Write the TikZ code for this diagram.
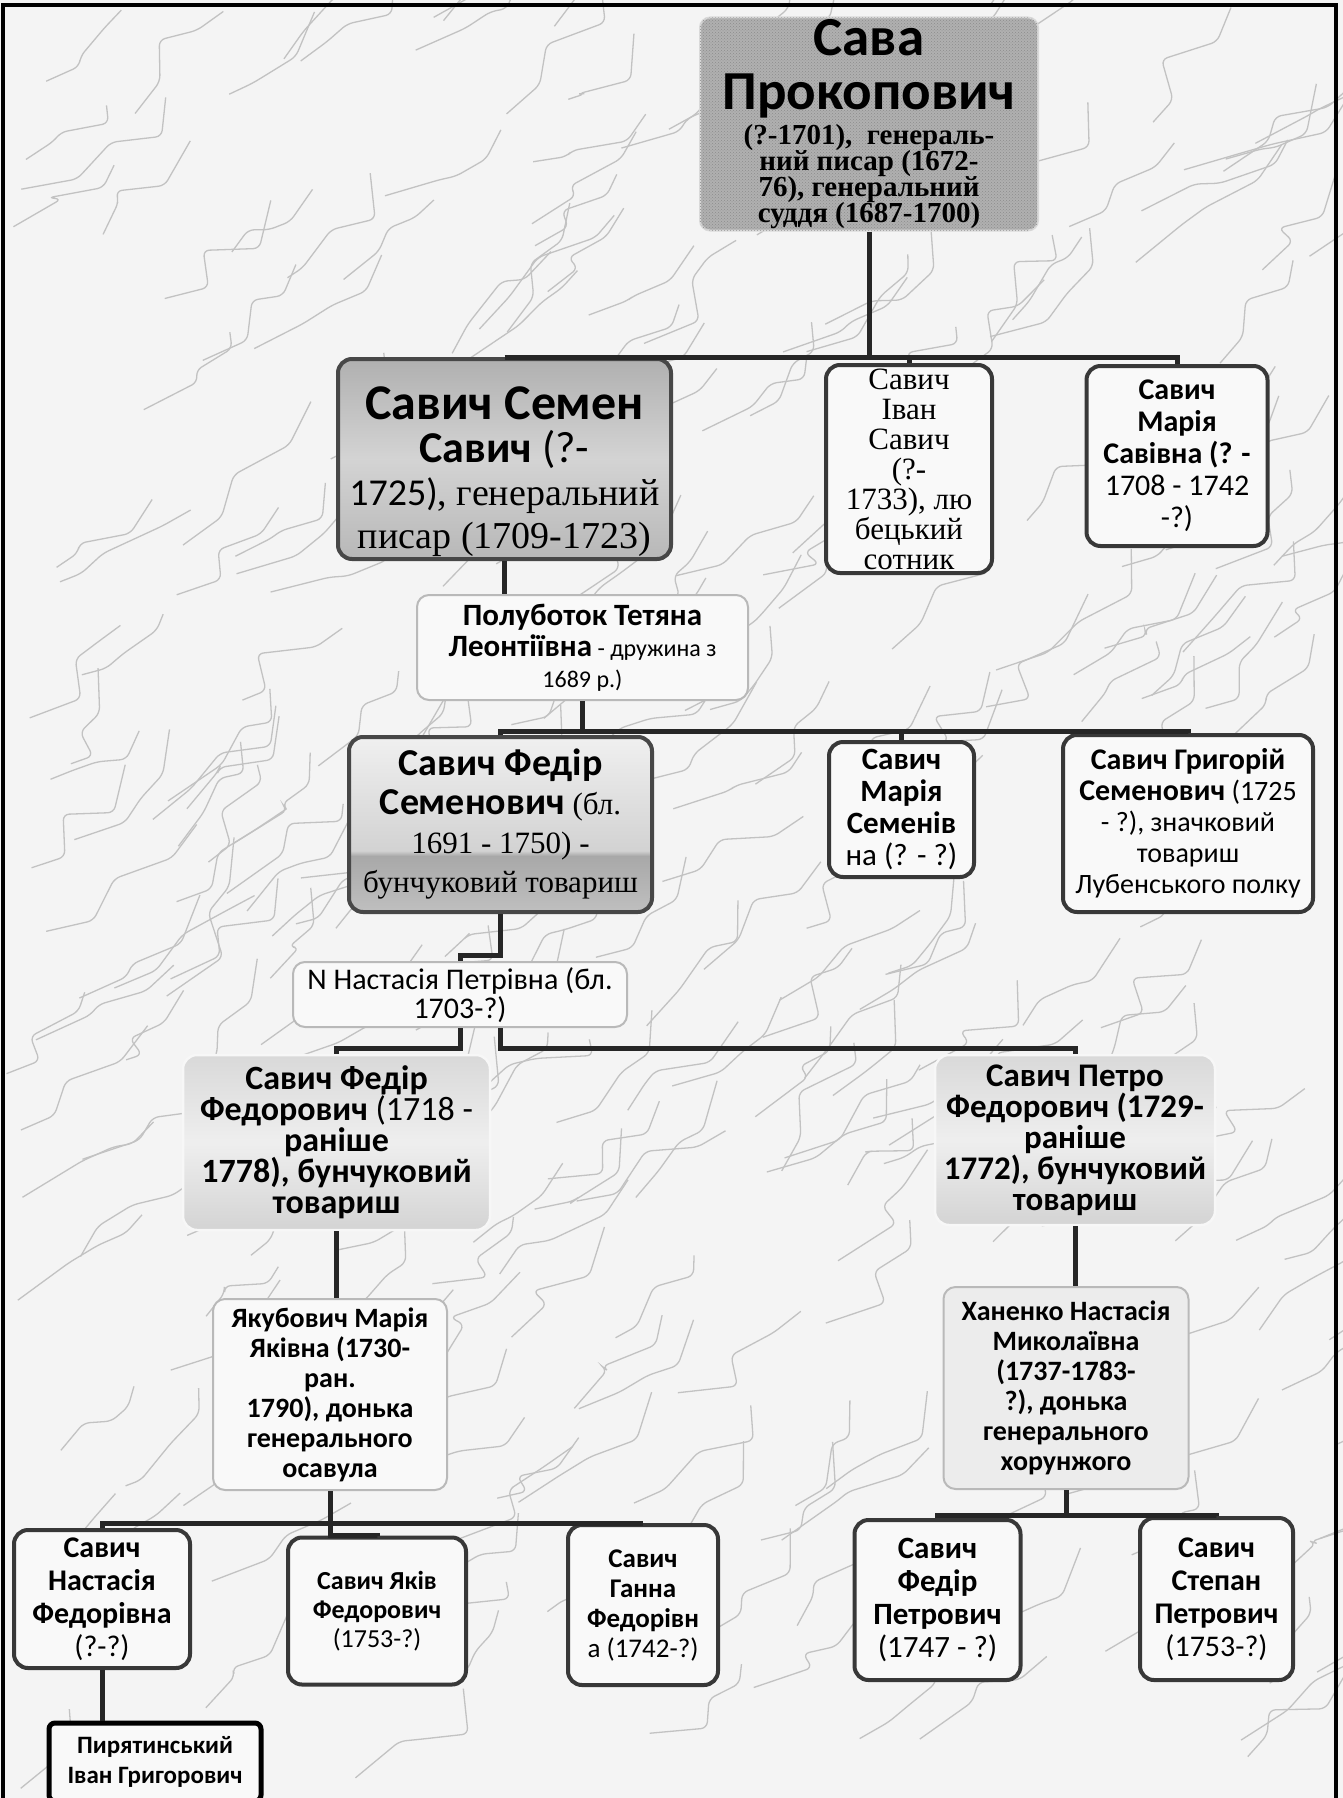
\documentclass[tikz,border=0pt]{standalone}
\usepackage{fontspec}
\setmainfont{Carlito}
\newfontfamily\serfont{Liberation Serif}
\usetikzlibrary{calc,patterns}
\lineskiplimit=-1000pt
\newcommand\fsz[2]{\fontsize{#1}{#2}\selectfont}
% shadings of the coloured boxes
\pgfdeclareverticalshading{semenshade}{100bp}{color(0bp)=(gray!56); color(25bp)=(gray!56); color(50bp)=(gray!34); color(75bp)=(gray!62); color(100bp)=(gray!62)}
\pgfdeclareverticalshading{fedirshade}{100bp}{color(0bp)=(gray!50); color(25bp)=(gray!50); color(41bp)=(gray!68); color(42.5bp)=(gray!35); color(75bp)=(gray!12); color(100bp)=(gray!12)}
\pgfdeclareverticalshading{metalshade}{100bp}{color(0bp)=(gray!34); color(25bp)=(gray!34); color(50bp)=(gray!13); color(75bp)=(gray!30); color(100bp)=(gray!30)}

\begin{document}
\begin{tikzpicture}[x=1pt,y=-1pt,
		link/.style={draw=black!85,line width=5pt},
		vein/.style={draw=gray!48,line width=1.3pt,rounded corners=6pt},
		card/.style={rounded corners=14pt,line width=4pt,draw=black!78,fill=gray!5,align=center,inner sep=2pt},
		slim/.style={rounded corners=12pt,line width=2pt,draw=gray!55,fill=gray!5,align=center,inner sep=2pt},
		granite/.style={rounded corners=10pt,line width=2pt,draw=gray!30,fill=gray!62,postaction={pattern=crosshatch dots,pattern color=gray!90},align=center,inner sep=1pt},
		shaded/.style={rounded corners=14pt,line width=4pt,draw=black!72,shading=#1,align=center,inner sep=2pt},
		metal/.style={rounded corners=14pt,line width=2.5pt,draw=gray!6,shading=metalshade,align=center,inner sep=2pt}]
		\fill[gray!9] (0,0) rectangle (1343,1798); %мармур
		\useasboundingbox (0,0) rectangle (1343,1798);
		\begin{scope}
			\clip (0,0) rectangle (1343,1798);
			\pgfmathsetseed{11}
			\foreach \i in {1,...,300}
				\draw[vein] (rnd*1343,rnd*1798) -- ++(15+rnd*45,-5-rnd*35) -- ++(rnd*50-15,-rnd*45) -- ++(15+rnd*45,-rnd*30) -- ++(rnd*35-5,-15-rnd*35);
		\end{scope}
		\draw[line width=4pt] (3,1800) -- (3,5) -- (1336,5) -- (1336,1800); %рамка
		% покоління 1
		\node[granite,minimum width=338pt,minimum height=213pt,font=\serfont\bfseries\fsz{29}{26}] (sava) at (869,124)
			{{\rmfamily\fsz{55}{26}Сава}\\[28pt]{\rmfamily\fsz{55}{26}Прокопович}\\[9pt](?-1701),~~генераль-\\ний писар (1672-\\76), генеральний\\суддя (1687-1700)};
		% покоління 2
		\node[shaded=semenshade,inner sep=0pt,minimum width=333pt,minimum height=200pt,font=\fsz{38}{43}] (semen) at (504.5,459)
			{{\rule{0pt}{58pt}\bfseries\fsz{50}{43}Савич Семен}\\{\bfseries\fsz{44}{43}Савич}{\fsz{44}{43} (?-}\\1725){\serfont, генеральний}\\{\serfont писар (1709-1723)}};
		\node[card,inner sep=0pt,minimum width=166pt,minimum height=208pt,font=\serfont\fsz{31}{30}] (ivan) at (909,469)
			{Савич\\Іван\\Савич\\(?-\\1733), лю\\бецький\\сотник};
		\node[card,minimum width=181pt,minimum height=180pt,font=\fsz{30}{32}] (maria1) at (1177,456)
			{{\bfseries Савич}\\{\bfseries Марія}\\{\bfseries Савівна (? -}\\1708 - 1742\\-?)};
		\node[slim,minimum width=331pt,minimum height=105pt,font=\fsz{24}{31}] (poluboto) at (582.5,647.5)
			{{\bfseries\fsz{31}{31}Полуботок Тетяна}\\{\bfseries\fsz{31}{31}Леонтіївна} - дружина з\\1689 р.)};
		% покоління 3
		\node[shaded=fedirshade,minimum width=303pt,minimum height=175pt,font=\serfont\fsz{31}{39}] (fedir1) at (500.5,824.5)
			{{\rmfamily\bfseries\fsz{38}{39}Савич Федір}\\{\rmfamily\bfseries\fsz{38}{39}Семенович} (бл.\\1691 - 1750) -\\бунчуковий товариш};
		\node[card,minimum width=145pt,minimum height=135pt,font=\fsz{31}{32}] (maria2) at (901.5,809.5)
			{{\bfseries Савич}\\{\bfseries Марія}\\{\bfseries Семенів}\\на (? - ?)};
		\node[card,minimum width=250pt,minimum height=177pt,font=\fsz{28}{31}] (grygorij) at (1188,823.5)
			{{\bfseries\fsz{30}{31}Савич Григорій}\\{\bfseries\fsz{30}{31}Семенович} (1725\\- ?), значковий\\товариш\\Лубенського полку};
		\node[slim,minimum width=334pt,minimum height=65pt,font=\fsz{30}{29}] (nastasia1) at (460,994.5)
			{\raisebox{-9pt}[0pt][0pt]{N Настасія Петрівна (бл.}\\\raisebox{-9pt}[0pt][0pt]{1703-?)}};
		% покоління 4
		\node[metal,minimum width=307pt,minimum height=175pt,font=\bfseries\fsz{34}{31}] (fedir2) at (336.5,1142.5)
			{Савич Федір\\Федорович {\mdseries (1718 -}\\раніше\\1778), бунчуковий\\товариш};
		\node[metal,minimum width=280pt,minimum height=170pt,font=\bfseries\fsz{33}{31}] (petro) at (1075,1140)
			{Савич Петро\\Федорович (1729-\\раніше\\1772), бунчуковий\\товариш};
		\node[slim,minimum width=234pt,minimum height=191pt,font=\bfseries\fsz{28}{30}] (jakub) at (330,1394.5)
			{Якубович Марія\\Яківна (1730-\\ран.\\1790), донька\\генерального\\осавула};
		\node[slim,fill=gray!15,minimum width=245pt,minimum height=202pt,font=\bfseries\fsz{28}{30}] (khanenko) at (1066,1388)
			{Ханенко Настасія\\Миколаївна\\(1737-1783-\\?), донька\\генерального\\хорунжого};
		% покоління 5
		\node[card,minimum width=176pt,minimum height=138pt,font=\fsz{30}{33}] (nastasia2) at (102,1599)
			{{\bfseries Савич}\\{\bfseries Настасія}\\{\bfseries Федорівна}\\(?-?)};
		\node[card,minimum width=178pt,minimum height=147pt,font=\fsz{26}{29}] (jakiv) at (377,1611)
			{{\bfseries Савич Яків}\\{\bfseries Федорович}\\(1753-?)};
		\node[card,minimum width=150pt,minimum height=160pt,font=\fsz{27}{30}] (hanna) at (643,1605)
			{{\bfseries Савич}\\{\bfseries Ганна}\\{\bfseries Федорівн}\\а (1742-?)};
		\node[card,minimum width=166pt,minimum height=160pt,font=\fsz{31}{33}] (fedir3) at (937.5,1600)
			{{\bfseries Савич}\\{\bfseries Федір}\\{\bfseries Петрович}\\(1747 - ?)};
		\node[card,minimum width=153pt,minimum height=162pt,font=\fsz{30}{33}] (stepan) at (1216.5,1599)
			{{\bfseries Савич}\\{\bfseries Степан}\\{\bfseries Петрович}\\(1753-?)};
		\node[card,rounded corners=6pt,draw=black,line width=5pt,minimum width=212pt,minimum height=78pt,font=\bfseries\fsz{25}{30}] (pyrjat) at (155,1762)
			{Пирятинський\\Іван Григорович};
		% лінії
		\draw[link] (sava.south) -- (sava.south |- semen.north);
		\draw[link] (semen.north) -- (semen.north -| maria1.north) -- (maria1.north);
		\draw[link] (ivan.north |- semen.north) -- (ivan.north);
		\draw[link] (semen.south) -- (semen.south |- poluboto.north);
		\coordinate (bus2) at ($(poluboto.south)+(0,30)$);
		\draw[link] (poluboto.south) -- (bus2);
		\draw[link] (fedir1.north) -- (fedir1.north |- bus2) -- (grygorij.north |- bus2) -- (grygorij.north);
		\draw[link] (maria2.north |- bus2) -- (maria2.north);
		\draw[link] (fedir1.south) -- ++(0,41) -| (nastasia1.north);
		\draw[link] (nastasia1.south) -- ++(0,20) -| (fedir2.north);
		\draw[link] (nastasia1.south -| fedir1.south) -- ++(0,20) -| (petro.north);
		\draw[link] (fedir2.south) -- (fedir2.south |- jakub.north);
		\draw[link] (petro.south) -- (petro.south |- khanenko.north);
		\coordinate (bus3) at ($(jakub.south)+(0,32)$);
		\draw[link] (nastasia2.north) -- (nastasia2.north |- bus3) -- (hanna.north |- bus3) -- (hanna.north);
		\draw[link] (jakub.south) -- ++(0,44) -| (jakiv.north);
		\coordinate (bus4) at ($(khanenko.south)+(0,25)$);
		\draw[link] (khanenko.south) -- (bus4);
		\draw[link] (fedir3.north) -- (fedir3.north |- bus4) -- (stepan.north |- bus4) -- (stepan.north);
		\draw[link] (nastasia2.south) -- (nastasia2.south |- pyrjat.north);
	\end{tikzpicture}
\end{document}
